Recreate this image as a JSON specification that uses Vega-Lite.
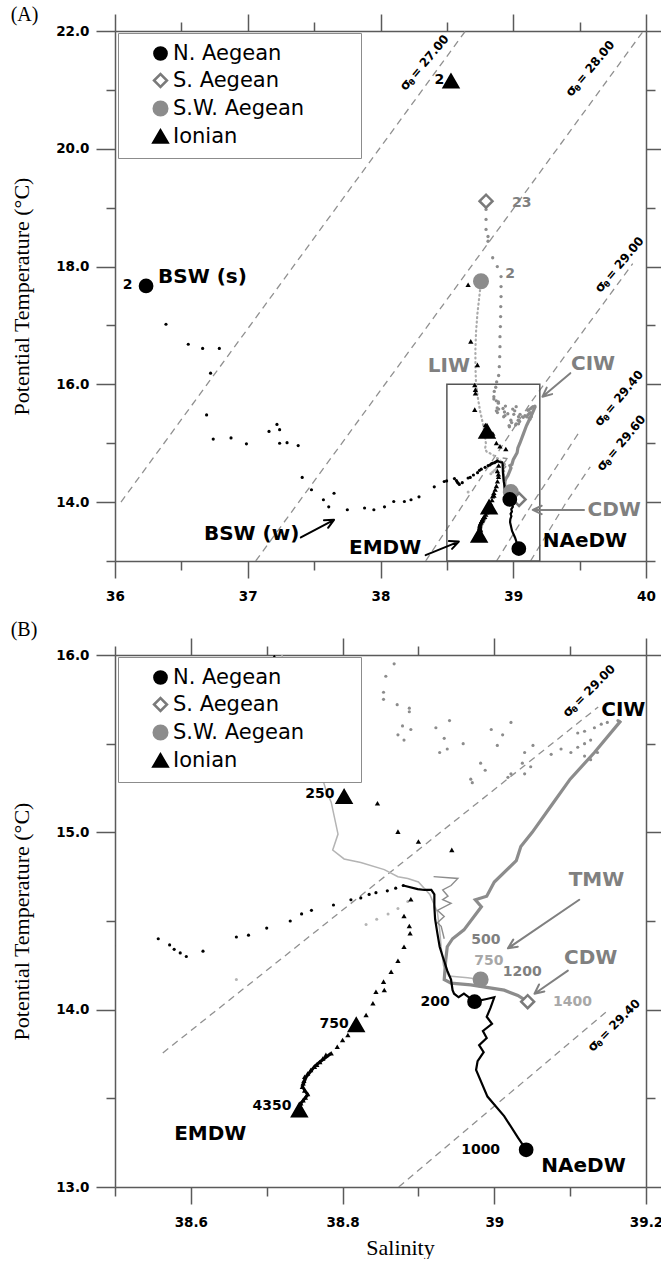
{
  "$schema": "https://vega.github.io/schema/vega-lite/v6.json",
  "background": "white",
  "padding": {"left": 10, "top": 5, "right": 0, "bottom": 0},
  "config": {
    "font": "DejaVu Sans",
    "view": {"stroke": null},
    "axis": {
      "grid": false, "domainColor": "#5a5a5a", "domainWidth": 1.5, "tickColor": "#5a5a5a", "tickWidth": 1.5,
      "labelFont": "DejaVu Sans", "labelFontWeight": "bold", "labelFontSize": 13.5, "labelColor": "#000000",
      "labelOverlap": false, "labelFlush": false,
      "titleFont": "Liberation Serif", "titleFontWeight": "normal", "titleFontSize": 22, "titleColor": "#000000"
    },
    "title": {"font": "Liberation Serif", "fontSize": 20, "fontWeight": "normal", "anchor": "start", "frame": "bounds", "color": "#000000"},
    "text": {"font": "DejaVu Sans", "fontWeight": "bold"}
  },
  "datasets": {
    "isoA": [
      {"g": "27", "s": 36.045, "t": 14.0}, {"g": "27", "s": 38.64, "t": 22.0},
      {"g": "28", "s": 37.06, "t": 13.0}, {"g": "28", "s": 39.98, "t": 22.0},
      {"g": "29", "s": 38.34, "t": 13.0}, {"g": "29", "s": 38.563, "t": 13.756}, {"g": "29", "s": 39.137, "t": 15.707}, {"g": "29", "s": 39.9, "t": 18.05},
      {"g": "29.4", "s": 38.874, "t": 13.0}, {"g": "29.4", "s": 39.151, "t": 14.0}, {"g": "29.4", "s": 39.5, "t": 15.2},
      {"g": "29.6", "s": 39.13, "t": 13.0}, {"g": "29.6", "s": 39.4, "t": 14.0}, {"g": "29.6", "s": 39.58, "t": 14.6}
    ],
    "isoB": [
      {"g": "29", "s": 38.563, "t": 13.756}, {"g": "29", "s": 39.137, "t": 15.707},
      {"g": "29.4", "s": 38.874, "t": 13.0}, {"g": "29.4", "s": 39.151, "t": 14.0}
    ],
    "sigA": [
      {"s": 38.166, "t": 21.02, "v": "= 27.00"},
      {"s": 39.414, "t": 20.92, "v": "= 28.00"},
      {"s": 39.635, "t": 17.59, "v": "= 29.00"},
      {"s": 39.63, "t": 15.32, "v": "= 29.40"},
      {"s": 39.648, "t": 14.56, "v": "= 29.60"}
    ],
    "sigB": [
      {"s": 39.093, "t": 15.662, "v": "= 29.00"},
      {"s": 39.126, "t": 13.776, "v": "= 29.40"}
    ],
    "nae_dots": [
      {"s": 36.384, "t": 17.02}, {"s": 36.552, "t": 16.68}, {"s": 36.66, "t": 16.61}, {"s": 36.786, "t": 16.61},
      {"s": 36.72, "t": 16.19}, {"s": 36.69, "t": 15.48}, {"s": 36.74, "t": 15.07}, {"s": 36.874, "t": 15.09},
      {"s": 36.99, "t": 14.99}, {"s": 37.16, "t": 15.2}, {"s": 37.22, "t": 15.32}, {"s": 37.24, "t": 15.23},
      {"s": 37.24, "t": 15.0}, {"s": 37.296, "t": 15.01}, {"s": 37.38, "t": 14.96}, {"s": 37.41, "t": 14.42},
      {"s": 37.48, "t": 14.21}, {"s": 37.57, "t": 14.04}, {"s": 37.61, "t": 13.92}, {"s": 37.65, "t": 14.15},
      {"s": 37.75, "t": 13.87}, {"s": 37.88, "t": 13.9}, {"s": 37.95, "t": 13.87}, {"s": 38.03, "t": 13.92},
      {"s": 38.1, "t": 14.01}, {"s": 38.18, "t": 14.01}, {"s": 38.23, "t": 14.04}, {"s": 38.29, "t": 14.09},
      {"s": 38.405, "t": 14.26}, {"s": 38.48, "t": 14.35},
      {"s": 38.498, "t": 14.36}, {"s": 38.557, "t": 14.4}, {"s": 38.572, "t": 14.365}, {"s": 38.578, "t": 14.34},
      {"s": 38.586, "t": 14.32}, {"s": 38.594, "t": 14.3}, {"s": 38.616, "t": 14.33}, {"s": 38.66, "t": 14.41},
      {"s": 38.676, "t": 14.42}, {"s": 38.7, "t": 14.46}, {"s": 38.731, "t": 14.5}, {"s": 38.746, "t": 14.54},
      {"s": 38.759, "t": 14.56}, {"s": 38.788, "t": 14.59}, {"s": 38.811, "t": 14.62}, {"s": 38.824, "t": 14.63},
      {"s": 38.835, "t": 14.65}, {"s": 38.844, "t": 14.66}, {"s": 38.859, "t": 14.67}, {"s": 38.87, "t": 14.685},
      {"s": 38.88, "t": 14.7}
    ],
    "nae_line": [
      {"s": 38.88, "t": 14.7}, {"s": 38.899, "t": 14.68}, {"s": 38.908, "t": 14.675}, {"s": 38.917, "t": 14.675},
      {"s": 38.921, "t": 14.65}, {"s": 38.921, "t": 14.58}, {"s": 38.922, "t": 14.51}, {"s": 38.925, "t": 14.43},
      {"s": 38.928, "t": 14.355}, {"s": 38.932, "t": 14.3}, {"s": 38.938, "t": 14.22}, {"s": 38.943, "t": 14.17},
      {"s": 38.945, "t": 14.11}, {"s": 38.947, "t": 14.09}, {"s": 38.953, "t": 14.07}, {"s": 38.96, "t": 14.09},
      {"s": 38.974, "t": 14.045}, {"s": 38.99, "t": 14.06}, {"s": 39.0, "t": 14.07}, {"s": 38.995, "t": 14.01},
      {"s": 38.99, "t": 13.96}, {"s": 38.997, "t": 13.92}, {"s": 38.985, "t": 13.88}, {"s": 38.99, "t": 13.84},
      {"s": 38.98, "t": 13.8}, {"s": 38.986, "t": 13.76}, {"s": 38.978, "t": 13.71}, {"s": 38.976, "t": 13.66},
      {"s": 38.991, "t": 13.51}, {"s": 39.013, "t": 13.4}, {"s": 39.031, "t": 13.28}, {"s": 39.042, "t": 13.21}
    ],
    "sa_dots": [
      {"s": 38.795, "t": 18.97}, {"s": 38.795, "t": 18.8}, {"s": 38.795, "t": 18.63}, {"s": 38.81, "t": 18.51},
      {"s": 38.81, "t": 18.43}, {"s": 38.845, "t": 18.15}, {"s": 38.88, "t": 18.0}, {"s": 38.908, "t": 17.83},
      {"s": 38.908, "t": 17.66}, {"s": 38.908, "t": 17.49}, {"s": 38.906, "t": 17.32}, {"s": 38.905, "t": 17.15},
      {"s": 38.903, "t": 16.98}, {"s": 38.9, "t": 16.81}, {"s": 38.9, "t": 16.64}, {"s": 38.898, "t": 16.47},
      {"s": 38.895, "t": 16.3}, {"s": 38.89, "t": 16.15}, {"s": 38.875, "t": 16.04},
      {"s": 38.868, "t": 15.95}, {"s": 38.857, "t": 15.88}, {"s": 38.854, "t": 15.79}, {"s": 38.854, "t": 15.75},
      {"s": 38.872, "t": 15.72}, {"s": 38.888, "t": 15.7}, {"s": 38.888, "t": 15.68}, {"s": 38.879, "t": 15.6},
      {"s": 38.89, "t": 15.58}, {"s": 38.873, "t": 15.55}, {"s": 38.881, "t": 15.52}, {"s": 38.923, "t": 15.59},
      {"s": 38.941, "t": 15.63}, {"s": 38.934, "t": 15.53}, {"s": 38.928, "t": 15.45}, {"s": 38.938, "t": 15.47},
      {"s": 38.959, "t": 15.5}, {"s": 38.996, "t": 15.58}, {"s": 39.011, "t": 15.55}, {"s": 39.022, "t": 15.62},
      {"s": 39.004, "t": 15.49}, {"s": 38.969, "t": 15.3}, {"s": 38.971, "t": 15.28}, {"s": 38.982, "t": 15.39},
      {"s": 38.988, "t": 15.35}, {"s": 39.018, "t": 15.31}, {"s": 39.022, "t": 15.33}, {"s": 39.04, "t": 15.45},
      {"s": 39.051, "t": 15.49}, {"s": 39.037, "t": 15.39}, {"s": 39.048, "t": 15.37}, {"s": 39.04, "t": 15.33},
      {"s": 39.075, "t": 15.44}, {"s": 39.088, "t": 15.47}, {"s": 39.101, "t": 15.45}, {"s": 39.11, "t": 15.48},
      {"s": 39.119, "t": 15.5}, {"s": 39.127, "t": 15.52}, {"s": 39.11, "t": 15.56}, {"s": 39.119, "t": 15.57},
      {"s": 39.132, "t": 15.59}, {"s": 39.141, "t": 15.61}, {"s": 39.149, "t": 15.62}, {"s": 39.163, "t": 15.63},
      {"s": 39.119, "t": 15.43}, {"s": 39.127, "t": 15.41}, {"s": 39.136, "t": 15.45}
    ],
    "sa_line": [
      {"s": 39.167, "t": 15.63}, {"s": 39.132, "t": 15.45}, {"s": 39.1, "t": 15.3}, {"s": 39.075, "t": 15.15},
      {"s": 39.05, "t": 15.0}, {"s": 39.035, "t": 14.92}, {"s": 39.029, "t": 14.84}, {"s": 39.0, "t": 14.72},
      {"s": 38.99, "t": 14.64}, {"s": 38.975, "t": 14.62}, {"s": 38.983, "t": 14.58}, {"s": 38.96, "t": 14.45},
      {"s": 38.945, "t": 14.4}, {"s": 38.938, "t": 14.355}, {"s": 38.936, "t": 14.28}, {"s": 38.934, "t": 14.17},
      {"s": 38.943, "t": 14.15}, {"s": 38.969, "t": 14.14}, {"s": 39.013, "t": 14.11}, {"s": 39.031, "t": 14.08},
      {"s": 39.044, "t": 14.045}
    ],
    "sa_thin": [
      {"s": 38.92, "t": 14.75}, {"s": 38.952, "t": 14.74}, {"s": 38.943, "t": 14.7}, {"s": 38.932, "t": 14.675},
      {"s": 38.939, "t": 14.64}, {"s": 38.932, "t": 14.62}, {"s": 38.943, "t": 14.6}, {"s": 38.925, "t": 14.56},
      {"s": 38.934, "t": 14.525}, {"s": 38.925, "t": 14.49}, {"s": 38.93, "t": 14.47}, {"s": 38.934, "t": 14.4}
    ],
    "swa_line": [
      {"s": 38.757, "t": 17.75}, {"s": 38.745, "t": 17.5}, {"s": 38.73, "t": 17.2}, {"s": 38.72, "t": 16.9},
      {"s": 38.715, "t": 16.6}, {"s": 38.715, "t": 16.3}, {"s": 38.72, "t": 16.0}, {"s": 38.735, "t": 15.75},
      {"s": 38.75, "t": 15.55}, {"s": 38.765, "t": 15.4}, {"s": 38.773, "t": 15.31}, {"s": 38.778, "t": 15.24},
      {"s": 38.785, "t": 15.17}, {"s": 38.794, "t": 14.99}, {"s": 38.787, "t": 14.9}, {"s": 38.802, "t": 14.85},
      {"s": 38.824, "t": 14.83}, {"s": 38.855, "t": 14.79}, {"s": 38.873, "t": 14.75}, {"s": 38.886, "t": 14.74},
      {"s": 38.9, "t": 14.72}, {"s": 38.915, "t": 14.65}, {"s": 38.925, "t": 14.55}, {"s": 38.928, "t": 14.45},
      {"s": 38.93, "t": 14.35}, {"s": 38.933, "t": 14.25}, {"s": 38.94, "t": 14.19}, {"s": 38.965, "t": 14.18},
      {"s": 38.982, "t": 14.17}
    ],
    "swa_dots": [
      {"s": 38.831, "t": 14.48}, {"s": 38.845, "t": 14.51}, {"s": 38.86, "t": 14.54}, {"s": 38.873, "t": 14.57},
      {"s": 38.886, "t": 14.61}, {"s": 38.66, "t": 14.17}
    ],
    "ion_small": [
      {"s": 38.66, "t": 17.69}, {"s": 38.68, "t": 16.73}, {"s": 38.73, "t": 16.33}, {"s": 38.71, "t": 15.99},
      {"s": 38.715, "t": 15.91}, {"s": 38.715, "t": 15.85}, {"s": 38.71, "t": 15.57}, {"s": 38.79, "t": 15.31},
      {"s": 38.846, "t": 15.164}, {"s": 38.873, "t": 15.004}, {"s": 38.9, "t": 14.948}, {"s": 38.944, "t": 14.901},
      {"s": 38.89, "t": 14.623}, {"s": 38.881, "t": 14.528}, {"s": 38.888, "t": 14.472}, {"s": 38.889, "t": 14.431},
      {"s": 38.881, "t": 14.355}, {"s": 38.873, "t": 14.276}, {"s": 38.864, "t": 14.214}, {"s": 38.854, "t": 14.158},
      {"s": 38.855, "t": 14.111}, {"s": 38.844, "t": 14.101}, {"s": 38.84, "t": 14.036}, {"s": 38.831, "t": 13.97},
      {"s": 38.807, "t": 13.857}, {"s": 38.8, "t": 13.829}, {"s": 38.793, "t": 13.791}, {"s": 38.785, "t": 13.754},
      {"s": 38.778, "t": 13.745}, {"s": 38.774, "t": 13.725}, {"s": 38.77, "t": 13.705}, {"s": 38.766, "t": 13.69},
      {"s": 38.763, "t": 13.679}, {"s": 38.758, "t": 13.66}, {"s": 38.754, "t": 13.64}, {"s": 38.75, "t": 13.622},
      {"s": 38.749, "t": 13.6}, {"s": 38.748, "t": 13.585}, {"s": 38.747, "t": 13.566}, {"s": 38.75, "t": 13.545},
      {"s": 38.754, "t": 13.525}, {"s": 38.751, "t": 13.505}, {"s": 38.748, "t": 13.49}, {"s": 38.745, "t": 13.472},
      {"s": 38.744, "t": 13.455}
    ],
    "ion_line": [
      {"s": 38.785, "t": 13.754}, {"s": 38.77, "t": 13.705}, {"s": 38.763, "t": 13.679}, {"s": 38.752, "t": 13.62},
      {"s": 38.747, "t": 13.566}, {"s": 38.754, "t": 13.52}, {"s": 38.745, "t": 13.472}, {"s": 38.743, "t": 13.434}
    ],
    "big": [
      {"s": 38.757, "t": 17.75, "r": "S.W. Aegean"}, {"s": 38.982, "t": 14.17, "r": "S.W. Aegean"},
      {"s": 38.795, "t": 19.11, "r": "S. Aegean"}, {"s": 39.044, "t": 14.045, "r": "S. Aegean"},
      {"s": 36.234, "t": 17.67, "r": "N. Aegean"}, {"s": 38.974, "t": 14.045, "r": "N. Aegean"}, {"s": 39.042, "t": 13.21, "r": "N. Aegean"},
      {"s": 38.531, "t": 21.15, "r": "Ionian"}, {"s": 38.802, "t": 15.201, "r": "Ionian"}, {"s": 38.818, "t": 13.914, "r": "Ionian"}, {"s": 38.743, "t": 13.434, "r": "Ionian"}
    ],
    "labA": [
      {"s": 36.324, "t": 17.83, "label": "BSW (s)", "r": "N. Aegean"},
      {"s": 36.67, "t": 13.46, "label": "BSW (w)", "r": "N. Aegean"},
      {"s": 37.763, "t": 13.22, "label": "EMDW", "r": "Ionian"},
      {"s": 39.222, "t": 13.34, "label": "NAeDW", "r": "N. Aegean"},
      {"s": 38.356, "t": 16.31, "label": "LIW", "r": "S. Aegean"},
      {"s": 39.435, "t": 16.35, "label": "CIW", "r": "S. Aegean"},
      {"s": 39.56, "t": 13.87, "label": "CDW", "r": "S. Aegean"}
    ],
    "numA": [
      {"s": 36.095, "t": 17.69, "label": "2", "r": "N. Aegean"},
      {"s": 38.443, "t": 21.16, "label": "2", "r": "Ionian"},
      {"s": 39.064, "t": 19.08, "label": "23", "r": "S. Aegean"},
      {"s": 38.977, "t": 17.88, "label": "2", "r": "S. Aegean"}
    ],
    "labB": [
      {"s": 39.141, "t": 15.69, "label": "CIW", "r": "N. Aegean"},
      {"s": 39.098, "t": 14.73, "label": "TMW", "r": "S. Aegean"},
      {"s": 39.092, "t": 14.29, "label": "CDW", "r": "S. Aegean"},
      {"s": 38.578, "t": 13.3, "label": "EMDW", "r": "Ionian"},
      {"s": 39.062, "t": 13.12, "label": "NAeDW", "r": "N. Aegean"}
    ],
    "numB": [
      {"s": 38.77, "t": 15.217, "label": "250", "r": "Ionian"},
      {"s": 38.789, "t": 13.919, "label": "750", "r": "Ionian"},
      {"s": 38.707, "t": 13.457, "label": "4350", "r": "Ionian"},
      {"s": 38.922, "t": 14.046, "label": "200", "r": "N. Aegean"},
      {"s": 38.982, "t": 13.209, "label": "1000", "r": "N. Aegean"},
      {"s": 38.989, "t": 14.393, "label": "500", "r": "S. Aegean"},
      {"s": 38.993, "t": 14.275, "label": "750", "r": "S.W. Aegean"},
      {"s": 39.037, "t": 14.214, "label": "1200", "r": "S. Aegean"},
      {"s": 39.103, "t": 14.041, "label": "1400", "r": "S.W. Aegean"}
    ],
    "arrowsA": [
      {"g": "a1", "r": "N. Aegean", "s": 37.4, "t": 13.4}, {"g": "a1", "r": "N. Aegean", "s": 37.65, "t": 13.7},
      {"g": "a1", "r": "N. Aegean", "s": 37.574, "t": 13.691}, {"g": "a1", "r": "N. Aegean", "s": 37.65, "t": 13.7},
      {"g": "a1", "r": "N. Aegean", "s": 37.605, "t": 13.564},
      {"g": "a2", "r": "Ionian", "s": 38.34, "t": 13.1}, {"g": "a2", "r": "Ionian", "s": 38.59, "t": 13.33},
      {"g": "a2", "r": "Ionian", "s": 38.515, "t": 13.338}, {"g": "a2", "r": "Ionian", "s": 38.59, "t": 13.33},
      {"g": "a2", "r": "Ionian", "s": 38.539, "t": 13.206},
      {"g": "a3", "r": "S. Aegean", "s": 39.43, "t": 16.19}, {"g": "a3", "r": "S. Aegean", "s": 39.22, "t": 15.79},
      {"g": "a3", "r": "S. Aegean", "s": 39.293, "t": 15.834}, {"g": "a3", "r": "S. Aegean", "s": 39.22, "t": 15.79},
      {"g": "a3", "r": "S. Aegean", "s": 39.252, "t": 15.944},
      {"g": "a4", "r": "S. Aegean", "s": 39.533, "t": 13.867}, {"g": "a4", "r": "S. Aegean", "s": 39.147, "t": 13.867},
      {"g": "a4", "r": "S. Aegean", "s": 39.214, "t": 13.796}, {"g": "a4", "r": "S. Aegean", "s": 39.147, "t": 13.867},
      {"g": "a4", "r": "S. Aegean", "s": 39.214, "t": 13.938}
    ],
    "arrowsB": [
      {"g": "b1", "r": "S. Aegean", "s": 39.112, "t": 14.62}, {"g": "b1", "r": "S. Aegean", "s": 39.018, "t": 14.346},
      {"g": "b1", "r": "S. Aegean", "s": 39.031, "t": 14.355}, {"g": "b1", "r": "S. Aegean", "s": 39.018, "t": 14.346},
      {"g": "b1", "r": "S. Aegean", "s": 39.025, "t": 14.395},
      {"g": "b2", "r": "S. Aegean", "s": 39.097, "t": 14.22}, {"g": "b2", "r": "S. Aegean", "s": 39.053, "t": 14.09},
      {"g": "b2", "r": "S. Aegean", "s": 39.066, "t": 14.102}, {"g": "b2", "r": "S. Aegean", "s": 39.053, "t": 14.09},
      {"g": "b2", "r": "S. Aegean", "s": 39.059, "t": 14.142}
    ]
  },
  "spacing": 17,
  "resolve": {
    "scale": {"shape": "independent", "fill": "independent", "stroke": "independent", "size": "independent"},
    "legend": {"shape": "independent", "fill": "independent", "stroke": "independent", "size": "independent"}
  },
  "vconcat": [
    {
      "width": 531,
      "height": 530,
      "title": {"text": "(A)", "offset": -12},
      "encoding": {
        "x": {"field": "s", "type": "quantitative", "scale": {"domain": [36, 40], "nice": false, "zero": false}, "axis": null},
        "y": {"field": "t", "type": "quantitative", "scale": {"domain": [13, 22], "nice": false, "zero": false}, "axis": null}
      },
      "resolve": {"axis": {"x": "independent", "y": "independent"}},
      "layer": [
        {
          "data": {"name": "isoA"},
          "mark": {"type": "line", "stroke": "#909090", "strokeWidth": 1.3, "strokeDash": [7, 5], "clip": true},
          "encoding": {
            "x": {"field": "s", "type": "quantitative", "scale": {"domain": [36, 40], "nice": false, "zero": false},
              "axis": {"orient": "bottom", "values": [36, 36.5, 37, 37.5, 38, 38.5, 39, 39.5, 40],
                "tickSize": {"condition": {"test": "datum.value % 1 === 0", "value": 17}, "value": 9},
                "labelExpr": "datum.value % 1 === 0 ? format(datum.value, 'd') : ''", "labelPadding": 11, "title": null}},
            "y": {"field": "t", "type": "quantitative", "scale": {"domain": [13, 22], "nice": false, "zero": false},
              "axis": {"orient": "left", "values": [13, 14, 15, 16, 17, 18, 19, 20, 21, 22],
                "tickSize": {"condition": {"test": "datum.value % 2 === 0", "value": 19}, "value": 9},
                "labelExpr": "datum.value % 2 === 0 ? format(datum.value, '.1f') : ''", "labelPadding": 7,
                "title": "Potential Temperature (°C)", "titlePadding": 22}},
            "detail": {"field": "g"},
            "order": {"value": null}
          }
        },
        {
          "data": {"values": [{"s": 38.5, "s2": 39.2, "t": 13, "t2": 16}]},
          "mark": {"type": "rect", "fillOpacity": 0, "stroke": "#555555", "strokeWidth": 1.5},
          "encoding": {"x2": {"field": "s2"}, "y2": {"field": "t2"}}
        },
        {"data": {"name": "swa_line"}, "mark": {"type": "line", "stroke": "#ababab", "strokeWidth": 2.2, "strokeDash": [1, 3.5], "strokeCap": "round", "clip": true}, "encoding": {"order": {"value": null}}},
        {"data": {"name": "sa_dots"}, "mark": {"type": "point", "filled": true, "size": 11, "color": "#8c8c8c", "opacity": 1, "clip": true}},
        {"data": {"name": "sa_thin"}, "mark": {"type": "line", "stroke": "#8c8c8c", "strokeWidth": 1.4, "clip": true}, "encoding": {"order": {"value": null}}},
        {"data": {"name": "sa_line"}, "mark": {"type": "line", "stroke": "#8c8c8c", "strokeWidth": 3.2, "clip": true}, "encoding": {"order": {"value": null}}},
        {"data": {"name": "swa_dots"}, "mark": {"type": "point", "filled": true, "size": 9, "color": "#b4b4b4", "opacity": 1, "clip": true}},
        {"data": {"name": "nae_dots"}, "mark": {"type": "point", "filled": true, "size": 10, "color": "#000000", "opacity": 1, "clip": true}},
        {"data": {"name": "nae_line"}, "mark": {"type": "line", "stroke": "#000000", "strokeWidth": 2.2, "clip": true}, "encoding": {"order": {"value": null}}},
        {"data": {"name": "ion_line"}, "mark": {"type": "line", "stroke": "#000000", "strokeWidth": 3, "clip": true}, "encoding": {"order": {"value": null}}},
        {"data": {"name": "ion_small"}, "mark": {"type": "point", "shape": "triangle-up", "filled": true, "size": 28, "color": "#000000", "opacity": 1, "clip": true}},
        {
          "data": {"name": "big"},
          "mark": {"type": "point", "filled": true, "strokeWidth": 2.5, "opacity": 1, "clip": true},
          "encoding": {
            "x": {"field": "s", "type": "quantitative", "scale": {"domain": [36, 40], "nice": false, "zero": false},
              "axis": {"orient": "top", "values": [36, 36.5, 37, 37.5, 38, 38.5, 39, 39.5, 40],
                "tickSize": {"condition": {"test": "datum.value % 1 === 0", "value": 17}, "value": 9},
                "labels": false, "title": null}},
            "y": {"field": "t", "type": "quantitative", "scale": {"domain": [13, 22], "nice": false, "zero": false},
              "axis": {"orient": "right", "values": [13, 14, 15, 16, 17, 18, 19, 20, 21, 22],
                "tickSize": {"condition": {"test": "datum.value % 2 === 0", "value": 15}, "value": 9},
                "labels": false, "title": null}},
            "shape": {"field": "r", "type": "nominal",
              "scale": {"domain": ["N. Aegean", "S. Aegean", "S.W. Aegean", "Ionian"], "range": ["circle", "diamond", "circle", "triangle-up"]},
              "legend": {"title": null, "orient": "none", "legendX": 3, "legendY": 2, "direction": "vertical",
                "padding": 10, "symbolOffset": 22, "labelOffset": 2, "rowPadding": 4, "labelLimit": 400,
                "labelFont": "DejaVu Sans", "labelFontSize": 21, "labelFontWeight": "normal",
                "fillColor": "#ffffff", "strokeColor": "#8c8c8c", "symbolStrokeWidth": 2.5,
                "labelExpr": "datum.label + '\u2800\u2800\u2800'",
                "encode": {
                  "labels": {"update": {"fill": {"signal": "datum.value === 'S. Aegean' ? '#7f7f7f' : datum.value === 'S.W. Aegean' ? '#b0b0b0' : '#000000'"}}},
                  "legend": {"update": {"strokeWidth": {"value": 2}}}
                }}},
            "size": {"field": "r", "type": "nominal",
              "scale": {"domain": ["N. Aegean", "S. Aegean", "S.W. Aegean", "Ionian"], "range": [150, 200, 140, 175]}},
            "fill": {"field": "r", "type": "nominal",
              "scale": {"domain": ["N. Aegean", "S. Aegean", "S.W. Aegean", "Ionian"], "range": ["#000000", "#ffffff", "#8c8c8c", "#000000"]}},
            "stroke": {"field": "r", "type": "nominal",
              "scale": {"domain": ["N. Aegean", "S. Aegean", "S.W. Aegean", "Ionian"], "range": ["#000000", "#7a7a7a", "#8c8c8c", "#000000"]}}
          }
        },
        {
          "data": {"name": "labA"},
          "mark": {"type": "text", "align": "left", "baseline": "middle", "fontSize": 20},
          "encoding": {"text": {"field": "label"},
            "color": {"field": "r", "type": "nominal", "scale": {"domain": ["N. Aegean", "S. Aegean", "S.W. Aegean", "Ionian"], "range": ["#000000", "#808080", "#a8a8a8", "#000000"]}, "legend": null}}
        },
        {
          "data": {"name": "numA"},
          "mark": {"type": "text", "align": "center", "baseline": "middle", "fontSize": 14},
          "encoding": {"text": {"field": "label"},
            "color": {"field": "r", "type": "nominal", "scale": {"domain": ["N. Aegean", "S. Aegean", "S.W. Aegean", "Ionian"], "range": ["#000000", "#808080", "#a8a8a8", "#000000"]}, "legend": null}}
        },
        {
          "data": {"name": "arrowsA"},
          "mark": {"type": "line", "strokeWidth": 2, "strokeCap": "round", "strokeJoin": "round"},
          "encoding": {"detail": {"field": "g"}, "order": {"value": null},
            "color": {"field": "r", "type": "nominal", "scale": {"domain": ["N. Aegean", "S. Aegean", "S.W. Aegean", "Ionian"], "range": ["#000000", "#808080", "#a8a8a8", "#000000"]}, "legend": null}}
        },
        {"data": {"name": "sigA"}, "mark": {"type": "text", "text": "σ", "angle": -50, "align": "left", "baseline": "middle", "fontSize": 13, "color": "#000000"}},
        {"data": {"name": "sigA"}, "mark": {"type": "text", "text": "θ", "angle": -50, "align": "left", "baseline": "middle", "fontSize": 8, "dx": 8.5, "dy": 4, "color": "#000000"}},
        {"data": {"name": "sigA"}, "mark": {"type": "text", "angle": -50, "align": "left", "baseline": "middle", "fontSize": 12, "dx": 16, "color": "#000000"}, "encoding": {"text": {"field": "v"}}}
      ]
    },
    {
      "width": 531,
      "height": 532,
      "title": {"text": "(B)", "offset": -3},
      "encoding": {
        "x": {"field": "s", "type": "quantitative", "scale": {"domain": [38.5, 39.2], "nice": false, "zero": false}, "axis": null},
        "y": {"field": "t", "type": "quantitative", "scale": {"domain": [13, 16], "nice": false, "zero": false}, "axis": null}
      },
      "resolve": {"axis": {"x": "independent", "y": "independent"}},
      "layer": [
        {
          "data": {"name": "isoB"},
          "mark": {"type": "line", "stroke": "#909090", "strokeWidth": 1.3, "strokeDash": [7, 5], "clip": true},
          "encoding": {
            "x": {"field": "s", "type": "quantitative", "scale": {"domain": [38.5, 39.2], "nice": false, "zero": false},
              "axis": {"orient": "bottom", "values": [38.5, 38.6, 38.7, 38.8, 38.9, 39, 39.1, 39.2],
                "tickSize": {"condition": {"test": "round(datum.value * 10) % 2 === 0", "value": 17}, "value": 9},
                "labelExpr": "round(datum.value * 10) % 2 === 0 ? format(datum.value, '~g') : ''", "labelPadding": 11,
                "title": "Salinity", "titlePadding": 9, "titleX": 285}},
            "y": {"field": "t", "type": "quantitative", "scale": {"domain": [13, 16], "nice": false, "zero": false},
              "axis": {"orient": "left", "values": [13, 13.5, 14, 14.5, 15, 15.5, 16],
                "tickSize": {"condition": {"test": "datum.value % 1 === 0", "value": 19}, "value": 9},
                "labelExpr": "datum.value % 1 === 0 ? format(datum.value, '.1f') : ''", "labelPadding": 7,
                "title": "Potential Temperature (°C)", "titlePadding": 22}},
            "detail": {"field": "g"},
            "order": {"value": null}
          }
        },
        {"data": {"name": "swa_line"}, "mark": {"type": "line", "stroke": "#b4b4b4", "strokeWidth": 1.5, "clip": true}, "encoding": {"order": {"value": null}}},
        {"data": {"name": "sa_dots"}, "mark": {"type": "point", "filled": true, "size": 10, "color": "#8c8c8c", "opacity": 1, "clip": true}},
        {"data": {"name": "sa_thin"}, "mark": {"type": "line", "stroke": "#8c8c8c", "strokeWidth": 1.4, "clip": true}, "encoding": {"order": {"value": null}}},
        {"data": {"name": "sa_line"}, "mark": {"type": "line", "stroke": "#8c8c8c", "strokeWidth": 3.2, "clip": true}, "encoding": {"order": {"value": null}}},
        {"data": {"name": "swa_dots"}, "mark": {"type": "point", "filled": true, "size": 9, "color": "#b4b4b4", "opacity": 1, "clip": true}},
        {"data": {"name": "nae_dots"}, "mark": {"type": "point", "filled": true, "size": 10, "color": "#000000", "opacity": 1, "clip": true}},
        {"data": {"name": "nae_line"}, "mark": {"type": "line", "stroke": "#000000", "strokeWidth": 2.2, "clip": true}, "encoding": {"order": {"value": null}}},
        {"data": {"name": "ion_line"}, "mark": {"type": "line", "stroke": "#000000", "strokeWidth": 3, "clip": true}, "encoding": {"order": {"value": null}}},
        {"data": {"name": "ion_small"}, "mark": {"type": "point", "shape": "triangle-up", "filled": true, "size": 28, "color": "#000000", "opacity": 1, "clip": true}},
        {
          "data": {"name": "big"},
          "mark": {"type": "point", "filled": true, "strokeWidth": 2.5, "opacity": 1, "clip": true},
          "encoding": {
            "x": {"field": "s", "type": "quantitative", "scale": {"domain": [38.5, 39.2], "nice": false, "zero": false},
              "axis": {"orient": "top", "values": [38.5, 38.6, 38.7, 38.8, 38.9, 39, 39.1, 39.2],
                "tickSize": {"condition": {"test": "round(datum.value * 10) % 2 === 0", "value": 17}, "value": 9},
                "labels": false, "title": null}},
            "y": {"field": "t", "type": "quantitative", "scale": {"domain": [13, 16], "nice": false, "zero": false},
              "axis": {"orient": "right", "values": [13, 13.5, 14, 14.5, 15, 15.5, 16],
                "tickSize": {"condition": {"test": "datum.value % 1 === 0", "value": 15}, "value": 9},
                "labels": false, "title": null}},
            "shape": {"field": "r", "type": "nominal",
              "scale": {"domain": ["N. Aegean", "S. Aegean", "S.W. Aegean", "Ionian"], "range": ["circle", "diamond", "circle", "triangle-up"]},
              "legend": {"title": null, "orient": "none", "legendX": 3, "legendY": 2, "direction": "vertical",
                "padding": 10, "symbolOffset": 22, "labelOffset": 2, "rowPadding": 4, "labelLimit": 400,
                "labelFont": "DejaVu Sans", "labelFontSize": 21, "labelFontWeight": "normal",
                "fillColor": "#ffffff", "strokeColor": "#8c8c8c", "symbolStrokeWidth": 2.5,
                "labelExpr": "datum.label + '\u2800\u2800\u2800'",
                "encode": {
                  "labels": {"update": {"fill": {"signal": "datum.value === 'S. Aegean' ? '#7f7f7f' : datum.value === 'S.W. Aegean' ? '#b0b0b0' : '#000000'"}}},
                  "legend": {"update": {"strokeWidth": {"value": 2}}}
                }}},
            "size": {"field": "r", "type": "nominal",
              "scale": {"domain": ["N. Aegean", "S. Aegean", "S.W. Aegean", "Ionian"], "range": [150, 200, 140, 175]}},
            "fill": {"field": "r", "type": "nominal",
              "scale": {"domain": ["N. Aegean", "S. Aegean", "S.W. Aegean", "Ionian"], "range": ["#000000", "#ffffff", "#8c8c8c", "#000000"]}},
            "stroke": {"field": "r", "type": "nominal",
              "scale": {"domain": ["N. Aegean", "S. Aegean", "S.W. Aegean", "Ionian"], "range": ["#000000", "#7a7a7a", "#8c8c8c", "#000000"]}}
          }
        },
        {
          "data": {"name": "labB"},
          "mark": {"type": "text", "align": "left", "baseline": "middle", "fontSize": 20},
          "encoding": {"text": {"field": "label"},
            "color": {"field": "r", "type": "nominal", "scale": {"domain": ["N. Aegean", "S. Aegean", "S.W. Aegean", "Ionian"], "range": ["#000000", "#808080", "#a8a8a8", "#000000"]}, "legend": null}}
        },
        {
          "data": {"name": "numB"},
          "mark": {"type": "text", "align": "center", "baseline": "middle", "fontSize": 14},
          "encoding": {"text": {"field": "label"},
            "color": {"field": "r", "type": "nominal", "scale": {"domain": ["N. Aegean", "S. Aegean", "S.W. Aegean", "Ionian"], "range": ["#000000", "#808080", "#a8a8a8", "#000000"]}, "legend": null}}
        },
        {
          "data": {"name": "arrowsB"},
          "mark": {"type": "line", "strokeWidth": 2, "strokeCap": "round", "strokeJoin": "round"},
          "encoding": {"detail": {"field": "g"}, "order": {"value": null},
            "color": {"field": "r", "type": "nominal", "scale": {"domain": ["N. Aegean", "S. Aegean", "S.W. Aegean", "Ionian"], "range": ["#000000", "#808080", "#a8a8a8", "#000000"]}, "legend": null}}
        },
        {"data": {"name": "sigB"}, "mark": {"type": "text", "text": "σ", "angle": -45, "align": "left", "baseline": "middle", "fontSize": 13, "color": "#000000"}},
        {"data": {"name": "sigB"}, "mark": {"type": "text", "text": "θ", "angle": -45, "align": "left", "baseline": "middle", "fontSize": 8, "dx": 8.5, "dy": 4, "color": "#000000"}},
        {"data": {"name": "sigB"}, "mark": {"type": "text", "angle": -45, "align": "left", "baseline": "middle", "fontSize": 12, "dx": 16, "color": "#000000"}, "encoding": {"text": {"field": "v"}}}
      ]
    }
  ]
}
